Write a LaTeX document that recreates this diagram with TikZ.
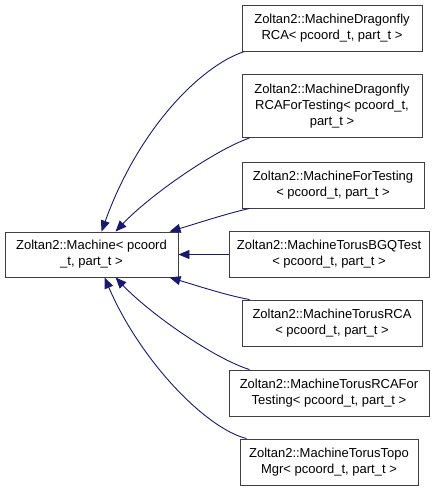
\documentclass[tikz,border=0pt]{standalone}
\usepackage{fontspec}
\setmainfont{Liberation Sans}
\usetikzlibrary{arrows.meta}
\definecolor{edgeblue}{RGB}{25,25,112}
\begin{document}
\begin{tikzpicture}[x=1pt,y=-1pt,
  cls/.style={draw=black!75, line width=0.9pt, fill=white, align=center, inner sep=0pt,
    font=\fontsize{13}{16}\selectfont, minimum height=46pt},
  inh/.style={draw=edgeblue, line width=0.9pt, -{Triangle[length=11pt,width=9pt]}}]
\useasboundingbox (0,0) rectangle (443,491);

% base class
\node[cls, minimum width=173pt, minimum height=45pt] (machine) at (91.5,254.5)
  {Zoltan2::Machine< pcoord\\\_t, part\_t >};

% derived classes
\node[cls, minimum width=180pt] (dfly) at (332,28)
  {Zoltan2::MachineDragonfly\\RCA< pcoord\_t, part\_t >};
\node[cls, minimum width=180pt, minimum height=63pt] (dflytest) at (332,106)
  {Zoltan2::MachineDragonfly\\RCAForTesting< pcoord\_t,\\part\_t >};
\node[cls, minimum width=182pt] (fortest) at (333,185)
  {Zoltan2::MachineForTesting\\< pcoord\_t, part\_t >};
\node[cls, minimum width=200pt] (bgq) at (329,254.5)
  {Zoltan2::MachineTorusBGQTest\\< pcoord\_t, part\_t >};
\node[cls, minimum width=180pt] (torusrca) at (332,323)
  {Zoltan2::MachineTorusRCA\\< pcoord\_t, part\_t >};
\node[cls, minimum width=200pt] (torusrcatest) at (329,393)
  {Zoltan2::MachineTorusRCAFor\\Testing< pcoord\_t, part\_t >};
\node[cls, minimum width=178pt] (topomgr) at (329,462)
  {Zoltan2::MachineTorusTopo\\Mgr< pcoord\_t, part\_t >};

% inheritance edges
\draw[inh] ([xshift=3pt]dfly.south west) .. controls (200,66) and (138,130) .. ([xshift=97pt]machine.north west);
\draw[inh] ([xshift=8pt]dflytest.south west) .. controls (215,150) and (150,195) .. ([xshift=111pt]machine.north west);
\draw[inh] ([xshift=8pt]fortest.south west) .. controls (225,214) and (195,224) .. ([xshift=165pt]machine.north west);
\draw[inh] (bgq.west) -- (machine.east);
\draw[inh] ([xshift=8pt]torusrca.north west) .. controls (225,295) and (195,285) .. ([xshift=165pt]machine.south west);
\draw[inh] ([xshift=21pt]torusrcatest.north west) .. controls (215,359) and (150,314) .. ([xshift=111pt]machine.south west);
\draw[inh] ([xshift=7pt]topomgr.north west) .. controls (205,428) and (140,360) .. ([xshift=100pt]machine.south west);

\end{tikzpicture}
\end{document}
